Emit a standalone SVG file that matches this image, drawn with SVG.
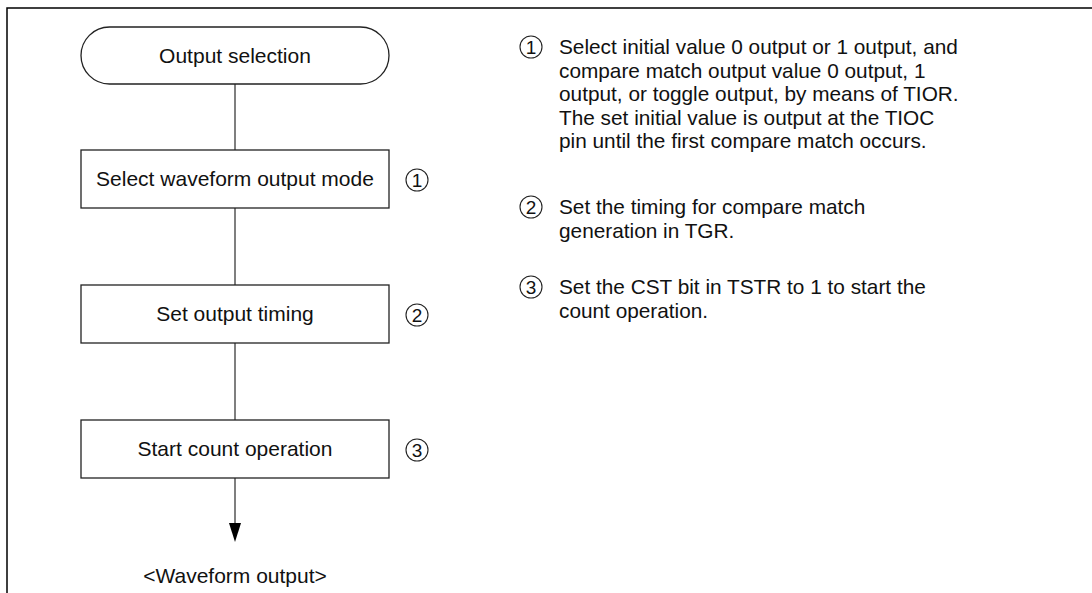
<svg xmlns="http://www.w3.org/2000/svg" width="1092" height="593" viewBox="0 0 1092 593">
<defs>
<style>
.box{fill:#fff;stroke:#222;stroke-width:1.3}
.t{font-family:"Liberation Sans",Arial,sans-serif;font-size:21px;fill:#111}
.r{font-family:"Liberation Sans",Arial,sans-serif;font-size:20.8px;fill:#111}
.c{fill:none;stroke:#222;stroke-width:1.1}
.n{font-family:"Liberation Sans",Arial,sans-serif;font-size:19px;fill:#111;text-anchor:middle}
.ln{stroke:#555;stroke-width:1.5;fill:none}
</style>
</defs>
<rect width="1092" height="593" fill="#fff"/>
<path d="M7,593 L7,8 L1092,8" fill="none" stroke="#000" stroke-width="1.5"/>
<g id="connectors">
<line class="ln" x1="235" y1="84" x2="235" y2="150"/>
<line class="ln" x1="235" y1="208" x2="235" y2="285"/>
<line class="ln" x1="235" y1="343" x2="235" y2="420"/>
<line class="ln" x1="235" y1="478" x2="235" y2="523"/>
<path d="M229,523 L241,523 L235,542 Z" fill="#000"/>
</g>
<g id="start">
<rect class="box" x="81" y="27" width="308" height="57" rx="28.5" ry="28.5"/>
<text class="t" x="235" y="63" text-anchor="middle">Output selection</text>
</g>
<g id="step1">
<rect class="box" x="81" y="150" width="308" height="58"/>
<text class="t" x="235" y="186" text-anchor="middle">Select waveform output mode</text>
<circle class="c" cx="417" cy="180" r="11"/>
<text class="n" x="417" y="187">1</text>
</g>
<g id="step2">
<rect class="box" x="81" y="285" width="308" height="58"/>
<text class="t" x="235" y="321" text-anchor="middle">Set output timing</text>
<circle class="c" cx="417" cy="315" r="11"/>
<text class="n" x="417" y="322">2</text>
</g>
<g id="step3">
<rect class="box" x="81" y="420" width="308" height="58"/>
<text class="t" x="235" y="456" text-anchor="middle">Start count operation</text>
<circle class="c" cx="417" cy="450" r="11"/>
<text class="n" x="417" y="457">3</text>
</g>
<g id="end">
<text class="t" x="235" y="583" text-anchor="middle">&lt;Waveform output&gt;</text>
</g>
<g id="notes">
<circle class="c" cx="531" cy="47" r="11"/>
<text class="n" x="531" y="54">1</text>
<text class="r" x="559" y="54">Select initial value 0 output or 1 output, and</text>
<text class="r" x="559" y="77.5">compare match output value 0 output, 1</text>
<text class="r" x="559" y="101">output, or toggle output, by means of TIOR.</text>
<text class="r" x="559" y="124.5">The set initial value is output at the TIOC</text>
<text class="r" x="559" y="148">pin until the first compare match occurs.</text>
<circle class="c" cx="531" cy="207" r="11"/>
<text class="n" x="531" y="214">2</text>
<text class="r" x="559" y="214">Set the timing for compare match</text>
<text class="r" x="559" y="237.5">generation in TGR.</text>
<circle class="c" cx="531" cy="287" r="11"/>
<text class="n" x="531" y="294">3</text>
<text class="r" x="559" y="294">Set the CST bit in TSTR to 1 to start the</text>
<text class="r" x="559" y="317.5">count operation.</text>
</g>
</svg>
